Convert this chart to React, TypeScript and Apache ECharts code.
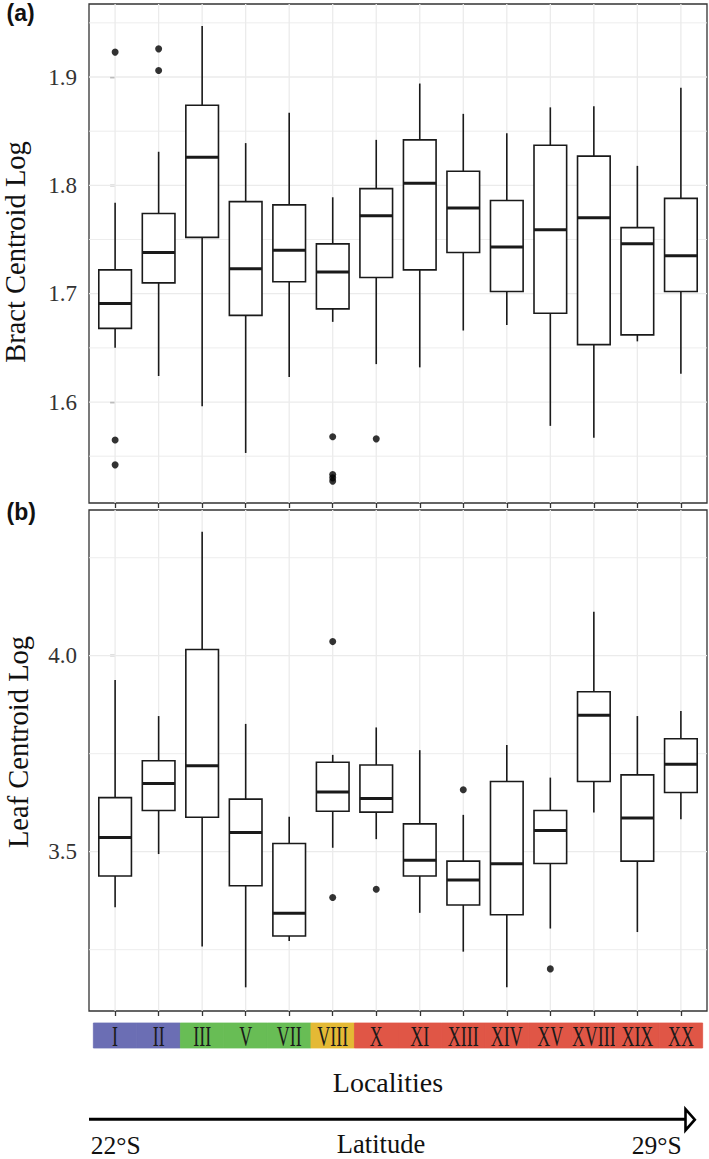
import React, { useEffect, useRef } from "react";
import * as echarts from "echarts";

// ---------- data ----------
const localities = ["I", "II", "III", "V", "VII", "VIII", "X", "XI", "XIII", "XIV", "XV", "XVIII", "XIX", "XX"];
// 0 = blue, 1 = green, 2 = yellow, 3 = red
const localityGroup = [0, 0, 1, 1, 1, 2, 3, 3, 3, 3, 3, 3, 3, 3];
const groupColors = ["#6b6eb4", "#68bd55", "#e4b935", "#e05646"];

// (a) Bract centroid log
const bractLow = [1.650, 1.624, 1.596, 1.553, 1.623, 1.674, 1.635, 1.632, 1.666, 1.671, 1.578, 1.567, 1.656, 1.626];
const bractQ1 = [1.668, 1.710, 1.752, 1.680, 1.711, 1.686, 1.715, 1.722, 1.738, 1.702, 1.682, 1.653, 1.662, 1.702];
const bractMedian = [1.691, 1.738, 1.826, 1.723, 1.740, 1.720, 1.772, 1.802, 1.779, 1.743, 1.759, 1.770, 1.746, 1.735];
const bractQ3 = [1.722, 1.774, 1.874, 1.785, 1.782, 1.746, 1.797, 1.842, 1.813, 1.786, 1.837, 1.827, 1.761, 1.788];
const bractHigh = [1.784, 1.831, 1.947, 1.839, 1.867, 1.789, 1.842, 1.894, 1.866, 1.848, 1.872, 1.873, 1.818, 1.890];
const bractOutliers = [
  [0, 1.923], [0, 1.565], [0, 1.542],
  [1, 1.926], [1, 1.906],
  [5, 1.568], [5, 1.533], [5, 1.530], [5, 1.527],
  [6, 1.566],
];
const bractTicks = [1.6, 1.7, 1.8, 1.9];
const bractGrid = [1.55, 1.6, 1.65, 1.7, 1.75, 1.8, 1.85, 1.9, 1.95];

// (b) Leaf centroid log
const leafLow = [3.358, 3.494, 3.258, 3.154, 3.272, 3.510, 3.532, 3.344, 3.245, 3.154, 3.304, 3.600, 3.295, 3.583];
const leafQ1 = [3.438, 3.605, 3.588, 3.413, 3.285, 3.603, 3.601, 3.438, 3.364, 3.339, 3.470, 3.679, 3.476, 3.651];
const leafMedian = [3.536, 3.674, 3.719, 3.549, 3.343, 3.652, 3.636, 3.478, 3.428, 3.469, 3.554, 3.848, 3.586, 3.723];
const leafQ3 = [3.638, 3.732, 4.016, 3.634, 3.521, 3.728, 3.721, 3.571, 3.476, 3.679, 3.605, 3.908, 3.696, 3.788];
const leafHigh = [3.938, 3.846, 4.316, 3.826, 3.589, 3.747, 3.817, 3.759, 3.594, 3.772, 3.689, 4.112, 3.846, 3.859];
const leafOutliers = [
  [5, 4.036], [5, 3.383],
  [6, 3.404],
  [8, 3.658],
  [10, 3.201],
];
const leafTicks = [3.5, 4.0];
const leafGrid = [3.25, 3.5, 3.75, 4.0, 4.25];

// ---------- styling ----------
const SERIF = '"Liberation Serif", "Times New Roman", "DejaVu Serif", serif';
const SANS = '"Liberation Sans", Arial, "DejaVu Sans", sans-serif';
const INK = "#1a1a1a";
const GRIDC = "#ebebeb";
const X_MIN = -0.6;
const X_MAX = 13.6;
const BRACT_MIN = 1.5068;
const BRACT_MAX = 1.9674;
const LEAF_MIN = 3.0936;
const LEAF_MAX = 4.3717;

function boxRows(lo: number[], q1: number[], md: number[], q3: number[], hi: number[]) {
  return localities.map((_, i) => [i, lo[i], q1[i], md[i], q3[i], hi[i]]);
}

function renderBox(params: any, api: any) {
  const i = api.value(0);
  const lo = api.coord([i, api.value(1)]);
  const q1 = api.coord([i, api.value(2)]);
  const md = api.coord([i, api.value(3)]);
  const q3 = api.coord([i, api.value(4)]);
  const hi = api.coord([i, api.value(5)]);
  const hw = api.size([0.75, 0])[0] / 2;
  const cx = lo[0];
  return {
    type: "group",
    children: [
      { type: "line", shape: { x1: cx, y1: hi[1], x2: cx, y2: q3[1] }, style: { stroke: INK, lineWidth: 1.6 } },
      { type: "line", shape: { x1: cx, y1: q1[1], x2: cx, y2: lo[1] }, style: { stroke: INK, lineWidth: 1.6 } },
      {
        type: "rect",
        shape: { x: cx - hw, y: q3[1], width: 2 * hw, height: q1[1] - q3[1] },
        style: { fill: "#ffffff", stroke: INK, lineWidth: 1.6 },
      },
      { type: "line", shape: { x1: cx - hw, y1: md[1], x2: cx + hw, y2: md[1] }, style: { stroke: INK, lineWidth: 3 } },
    ],
  };
}

function renderHGrid(params: any, api: any) {
  const v = api.value(1);
  const a = api.coord([X_MIN, v]);
  const b = api.coord([X_MAX, v]);
  return {
    type: "line",
    silent: true,
    shape: { x1: a[0], y1: a[1], x2: b[0], y2: b[1] },
    style: { stroke: GRIDC, lineWidth: api.value(2) ? 1.3 : 0.9 },
  };
}

function makeVGrid(yMin: number, yMax: number) {
  return (params: any, api: any) => {
    const i = api.value(0);
    const a = api.coord([i, yMin]);
    const b = api.coord([i, yMax]);
    return {
      type: "line",
      silent: true,
      shape: { x1: a[0], y1: a[1], x2: b[0], y2: b[1] },
      style: { stroke: GRIDC, lineWidth: 1.3 },
    };
  };
}

function renderStrip(params: any, api: any) {
  const i = api.value(0);
  const g = api.value(2);
  const tl = api.coord([Math.max(i - 0.5, X_MIN), 1]);
  const br = api.coord([Math.min(i + 0.5, X_MAX), 0]);
  const c = api.coord([i, 0.5]);
  const color = groupColors[g];
  return {
    type: "group",
    children: [
      {
        type: "rect",
        shape: { x: tl[0], y: tl[1], width: br[0] - tl[0], height: br[1] - tl[1] },
        style: { fill: color, stroke: color, lineWidth: 0.8 },
      },
      {
        type: "text",
        x: c[0],
        y: c[1] + 0.5,
        scaleX: 0.62,
        style: {
          text: localities[params.dataIndex],
          fontFamily: SERIF,
          fontSize: 29,
          fill: INK,
          align: "center",
          verticalAlign: "middle",
          textAlign: "center",
          textVerticalAlign: "middle",
        },
      },
    ],
  };
}

const tickIdx = localities.map((_, i) => i);

function xAxisFor(gridIndex: number) {
  return {
    gridIndex,
    type: "value",
    min: X_MIN,
    max: X_MAX,
    axisLine: { show: false },
    splitLine: { show: false },
    axisLabel: { show: false },
    axisTick: { show: true, customValues: tickIdx, length: 5, lineStyle: { color: "#333", width: 1.3 } },
  };
}

function yAxisFor(gridIndex: number, min: number, max: number, ticks: number[]) {
  return {
    gridIndex,
    type: "value",
    min,
    max,
    axisLine: { show: false },
    splitLine: { show: false },
    axisTick: { show: true, customValues: ticks, length: 5, lineStyle: { color: "#333", width: 1.3 } },
    axisLabel: {
      customValues: ticks,
      formatter: (v: number) => v.toFixed(1),
      fontFamily: SERIF,
      fontSize: 23,
      color: "#333",
      margin: 12,
    },
  };
}

function txt(text: string, x: number, y: number, size: number, align: string, extra: any = {}) {
  const { family, weight, ...rest } = extra;
  return {
    type: "text",
    x,
    y,
    ...rest,
    style: {
      text,
      fontFamily: family || SERIF,
      fontSize: size,
      fontWeight: weight || "normal",
      fill: "#111",
      align,
      textAlign: align,
      verticalAlign: "middle",
      textVerticalAlign: "middle",
    },
  };
}

const option: any = {
  animation: false,
  backgroundColor: "#ffffff",
  grid: [
    { left: 89, top: 4, width: 618, height: 499, show: true, borderColor: "#333", borderWidth: 1.3, backgroundColor: "transparent" },
    { left: 89, top: 510, width: 618, height: 501, show: true, borderColor: "#333", borderWidth: 1.3, backgroundColor: "transparent" },
    { left: 89, top: 1023, width: 618, height: 25 },
  ],
  xAxis: [
    xAxisFor(0),
    xAxisFor(1),
    { gridIndex: 2, type: "value", min: X_MIN, max: X_MAX, show: false },
  ],
  yAxis: [
    yAxisFor(0, BRACT_MIN, BRACT_MAX, bractTicks),
    yAxisFor(1, LEAF_MIN, LEAF_MAX, leafTicks),
    { gridIndex: 2, type: "value", min: 0, max: 1, show: false },
  ],
  series: [
    // grid lines panel (a)
    {
      type: "custom", xAxisIndex: 0, yAxisIndex: 0, z: 1, silent: true,
      data: bractGrid.map((v) => [0, v, bractTicks.some((t) => Math.abs(t - v) < 1e-9) ? 1 : 0]),
      encode: { x: 0, y: 1 },
      renderItem: renderHGrid,
    },
    {
      type: "custom", xAxisIndex: 0, yAxisIndex: 0, z: 1, silent: true,
      data: tickIdx.map((i) => [i, BRACT_MIN]),
      encode: { x: 0, y: 1 },
      renderItem: makeVGrid(BRACT_MIN, BRACT_MAX),
    },
    // grid lines panel (b)
    {
      type: "custom", xAxisIndex: 1, yAxisIndex: 1, z: 1, silent: true,
      data: leafGrid.map((v) => [0, v, leafTicks.some((t) => Math.abs(t - v) < 1e-9) ? 1 : 0]),
      encode: { x: 0, y: 1 },
      renderItem: renderHGrid,
    },
    {
      type: "custom", xAxisIndex: 1, yAxisIndex: 1, z: 1, silent: true,
      data: tickIdx.map((i) => [i, LEAF_MIN]),
      encode: { x: 0, y: 1 },
      renderItem: makeVGrid(LEAF_MIN, LEAF_MAX),
    },
    // boxes
    {
      type: "custom", name: "Bract", xAxisIndex: 0, yAxisIndex: 0, z: 3,
      data: boxRows(bractLow, bractQ1, bractMedian, bractQ3, bractHigh),
      encode: { x: 0, y: [1, 2, 3, 4, 5] },
      renderItem: renderBox,
    },
    {
      type: "custom", name: "Leaf", xAxisIndex: 1, yAxisIndex: 1, z: 3,
      data: boxRows(leafLow, leafQ1, leafMedian, leafQ3, leafHigh),
      encode: { x: 0, y: [1, 2, 3, 4, 5] },
      renderItem: renderBox,
    },
    // outliers
    {
      type: "scatter", xAxisIndex: 0, yAxisIndex: 0, z: 4,
      data: bractOutliers, symbol: "circle", symbolSize: 7, itemStyle: { color: "#000" },
    },
    {
      type: "scatter", xAxisIndex: 1, yAxisIndex: 1, z: 4,
      data: leafOutliers, symbol: "circle", symbolSize: 7, itemStyle: { color: "#000" },
    },
    // locality strip
    {
      type: "custom", xAxisIndex: 2, yAxisIndex: 2, z: 3, silent: true,
      data: localities.map((_, i) => [i, 0.5, localityGroup[i]]),
      encode: { x: 0, y: 1 },
      renderItem: renderStrip,
    },
  ],
  graphic: {
    elements: [
      txt("(a)", 6.5, 13, 23, "left", { family: SANS, weight: "bold" }),
      txt("(b)", 6.5, 512, 23, "left", { family: SANS, weight: "bold" }),
      txt("Bract Centroid Log", 15, 252, 28.5, "center", { rotation: Math.PI / 2 }),
      txt("Leaf Centroid Log", 18.5, 742, 28.5, "center", { rotation: Math.PI / 2 }),
      txt("Localities", 388, 1082.2, 28, "center"),
      {
        type: "line",
        shape: { x1: 89, y1: 1119.2, x2: 686, y2: 1119.2 },
        style: { stroke: "#000", lineWidth: 3 },
      },
      {
        type: "polygon",
        shape: { points: [[685.5, 1109.2], [694.8, 1119.7], [685.5, 1130.2]] },
        style: { fill: "#fff", stroke: "#000", lineWidth: 2.6 },
      },
      txt("22°S", 90.7, 1145, 25.5, "left"),
      txt("Latitude", 381, 1144, 26.5, "center"),
      txt("29°S", 681.7, 1145, 25.5, "right"),
    ],
  },
};

export default function App() {
  const ref = useRef<HTMLDivElement>(null);
  useEffect(() => {
    document.body.style.margin = "0";
    if (!ref.current) return;
    const chart = echarts.init(ref.current, null, { renderer: "svg" });
    chart.setOption(option);
    return () => chart.dispose();
  }, []);
  return <div ref={ref} style={{ width: 709, height: 1159 }} />;
}
